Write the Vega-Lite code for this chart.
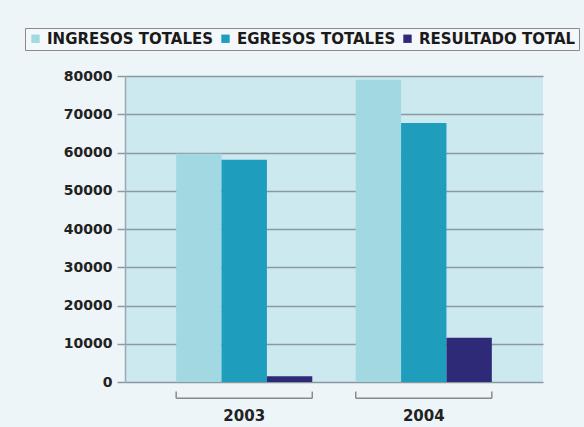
{
  "$schema": "https://vega.github.io/schema/vega-lite/v6.json",
  "autosize": {"type": "none"},
  "width": 418,
  "height": 306,
  "padding": {"left": 125, "top": 76, "right": 41, "bottom": 45},
  "background": "#eef5f8",
  "config": {
    "view": {"fill": "#cde9f0", "stroke": null},
    "font": "DejaVu Sans",
    "axisY": {
      "title": null, "format": "d", "grid": true, "gridColor": "#8a99a0", "gridWidth": 1.5,
      "tickColor": "#8a99a0", "tickWidth": 1.5, "tickSize": 8,
      "domain": true, "domainColor": "#9aaab0", "domainWidth": 1.5,
      "labelFont": "DejaVu Sans", "labelFontSize": 14, "labelFontWeight": "bold",
      "labelColor": "#222222", "labelPadding": 5, "labelOverlap": false
    }
  },
  "layer": [
    {
      "data": {
        "values": [
          {"year": "2003", "serie": "INGRESOS TOTALES", "value": 59700},
          {"year": "2003", "serie": "EGRESOS TOTALES", "value": 58100},
          {"year": "2003", "serie": "RESULTADO TOTAL", "value": 1500},
          {"year": "2004", "serie": "INGRESOS TOTALES", "value": 79000},
          {"year": "2004", "serie": "EGRESOS TOTALES", "value": 67700},
          {"year": "2004", "serie": "RESULTADO TOTAL", "value": 11600}
        ]
      },
      "mark": {"type": "bar"},
      "encoding": {
        "x": {
          "field": "year", "type": "nominal",
          "scale": {"paddingInner": 0.242, "paddingOuter": 0.285},
          "axis": {"title": null, "domain": false, "ticks": false, "labelAngle": 0, "labelPadding": 26,
                   "labelFont": "DejaVu Sans", "labelFontSize": 15, "labelFontWeight": "bold", "labelColor": "#222222"}
        },
        "xOffset": {
          "field": "serie", "type": "nominal",
          "sort": ["INGRESOS TOTALES", "EGRESOS TOTALES", "RESULTADO TOTAL"],
          "scale": {"paddingInner": 0, "paddingOuter": 0}
        },
        "y": {
          "field": "value", "type": "quantitative",
          "scale": {"domain": [0, 80000], "nice": false},
          "axis": {"values": [0, 10000, 20000, 30000, 40000, 50000, 60000, 70000, 80000]}
        },
        "color": {
          "field": "serie", "type": "nominal",
          "scale": {
            "domain": ["INGRESOS TOTALES", "EGRESOS TOTALES", "RESULTADO TOTAL"],
            "range": ["#a1d8e2", "#1e9dbd", "#2f2a78"]
          },
          "legend": {
            "title": null, "orient": "none", "direction": "horizontal",
            "legendX": -100, "legendY": -48,
            "symbolType": "square", "symbolSize": 70, "symbolStrokeWidth": 0,
            "labelFont": "DejaVu Sans", "labelFontSize": 15, "labelFontWeight": "bold",
            "labelColor": "#1a1a1a", "labelOffset": 4, "columnPadding": 4, "labelLimit": 400,
            "padding": 3, "strokeColor": "#8a8a8a", "fillColor": "#f4f8fa", "cornerRadius": 0
          }
        }
      }
    },
    {
      "data": {"values": [{"year": "2003"}, {"year": "2004"}]},
      "mark": {"type": "rule", "color": "#8a8a8a", "strokeWidth": 1.5},
      "encoding": {
        "x": {"field": "year", "type": "nominal", "bandPosition": 0},
        "x2": {"field": "year", "bandPosition": 1},
        "y": {"datum": -4260, "axis": {"values": [0, 10000, 20000, 30000, 40000, 50000, 60000, 70000, 80000]}}
      }
    },
    {
      "data": {"values": [{"year": "2003"}, {"year": "2004"}]},
      "mark": {"type": "rule", "color": "#8a8a8a", "strokeWidth": 1.5},
      "encoding": {
        "x": {"field": "year", "type": "nominal", "bandPosition": 0},
        "y": {"datum": -4260, "axis": {"values": [0, 10000, 20000, 30000, 40000, 50000, 60000, 70000, 80000]}},
        "y2": {"datum": -2500}
      }
    },
    {
      "data": {"values": [{"year": "2003"}, {"year": "2004"}]},
      "mark": {"type": "rule", "color": "#8a8a8a", "strokeWidth": 1.5},
      "encoding": {
        "x": {"field": "year", "type": "nominal", "bandPosition": 1},
        "y": {"datum": -4260, "axis": {"values": [0, 10000, 20000, 30000, 40000, 50000, 60000, 70000, 80000]}},
        "y2": {"datum": -2500}
      }
    }
  ]
}
